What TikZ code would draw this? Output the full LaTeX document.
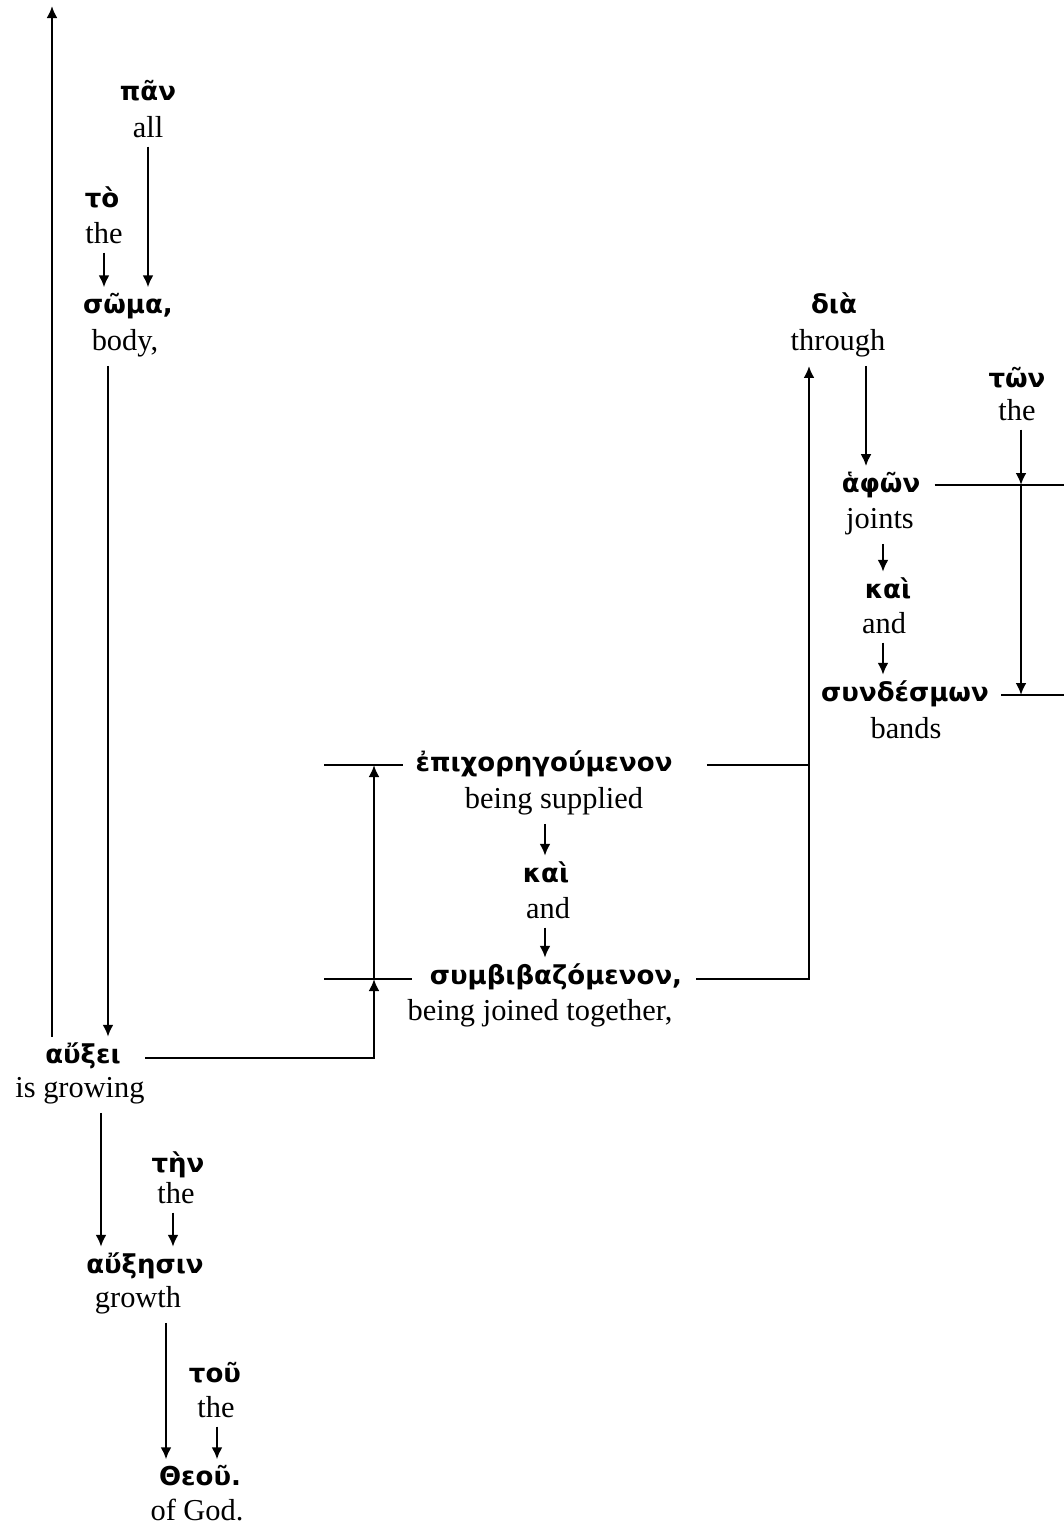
\documentclass[tikz,border=0pt]{standalone}
\usepackage{fontspec}
\setmainfont{Liberation Serif}
\newfontfamily\gkfont{DejaVu Sans}
\usetikzlibrary{arrows.meta}
\begin{document}
\begin{tikzpicture}[x=0.5pt,y=-0.5pt,
  gk/.style={font=\gkfont\bfseries\fontsize{13}{16}\selectfont, inner xsep=1pt, inner ysep=2.5pt, anchor=base},
  en/.style={font=\fontsize{15.2}{18}\selectfont, inner xsep=1pt, inner ysep=4.5pt, anchor=base},
  arr/.style={line width=1.2pt, -{Latex[length=6pt,width=5.5pt]}},
  ln/.style={line width=1.2pt}]
\useasboundingbox (0,0) rectangle (1064,1531);
% Greek / English nodes (placed by baseline)
\node[gk] (pan-g) at (148,100) {πᾶν};
\node[en] (pan-e) at (148,137) {all};
\node[gk] (to-g) at (102,207) {τὸ};
\node[en] (to-e) at (104,243) {the};
\node[gk] (soma-g) at (128,313) {σῶμα,};
\node[en] (soma-e) at (125,350) {body,};
\node[gk] (dia-g) at (834,313) {διὰ};
\node[en] (dia-e) at (838,350) {through};
\node[gk] (ton-g) at (1017,387) {τῶν};
\node[en] (ton-e) at (1017,420) {the};
\node[gk] (afon-g) at (881,492) {ἁφῶν};
\node[en] (afon-e) at (880,528) {joints};
\node[gk] (kai1-g) at (888,598) {καὶ};
\node[en] (kai1-e) at (884,633) {and};
\node[gk] (synd-g) at (905,701) {συνδέσμων};
\node[en] (synd-e) at (906,738) {bands};
\node[gk] (epi-g) at (544,771) {ἐπιχορηγούμενον};
\node[en] (epi-e) at (554,808) {being supplied};
\node[gk] (kai2-g) at (546,882) {καὶ};
\node[en] (kai2-e) at (548,918) {and};
\node[gk] (sym-g) at (556,984) {συμβιβαζόμενον,};
\node[en] (sym-e) at (540,1020) {being joined together,};
\node[gk] (auxei-g) at (83,1063) {αὔξει};
\node[en] (auxei-e) at (80,1097) {is growing};
\node[gk] (ten-g) at (178,1172) {τὴν};
\node[en] (ten-e) at (176,1203) {the};
\node[gk] (auxesin-g) at (145,1273) {αὔξησιν};
\node[en] (auxesin-e) at (138,1307) {growth};
\node[gk] (tou-g) at (215,1382) {τοῦ};
\node[en] (tou-e) at (216,1417) {the};
\node[gk] (theou-g) at (200,1485) {Θεοῦ.};
\node[en] (theou-e) at (197,1520) {of God.};
% line levels and free ends
\coordinate (auxei-L) at ([xshift=11pt,yshift=2.5pt]auxei-g.base east);
\coordinate (symW-L) at ([xshift=-8pt,yshift=2.5pt]sym-g.base west);
\coordinate (symE-L) at ([xshift=6pt,yshift=2.5pt]sym-g.base east);
\coordinate (epiW-L) at ([xshift=-5pt,yshift=3pt]epi-g.base west);
\coordinate (epiE-L) at ([xshift=16pt,yshift=3pt]epi-g.base east);
\coordinate (afon-L) at ([xshift=6pt,yshift=3.5pt]afon-g.base east);
\coordinate (synd-L) at ([xshift=5pt,yshift=3pt]synd-g.base east);
\coordinate (topend) at (52,6);
\coordinate (redge) at (1064,0);
% connectors
\draw[arr] (52,0 |- auxei-g.north) -- (topend);
\draw[arr] (pan-e.south) -- (pan-e.south |- soma-g.north);
\draw[arr] (to-e.south) -- (to-e.south |- soma-g.north);
\draw[arr] (108,0 |- soma-e.south) -- (108,0 |- auxei-g.north);
\draw[arr] (auxei-L) -- (374,0 |- auxei-L) -- (374,0 |- symW-L);
\draw[ln] (324,0 |- symW-L) -- (symW-L);
\draw[ln] (324,0 |- epiW-L) -- (epiW-L);
\draw[arr] (374,0 |- symW-L) -- (374,0 |- epiW-L);
\draw[ln] (epiE-L) -- (809,0 |- epiE-L);
\draw[arr] (symE-L) -- (809,0 |- symE-L) -- (809,0 |- dia-e.south);
\draw[arr] (866,0 |- dia-e.south) -- (866,0 |- afon-g.north);
\draw[ln] (afon-L) -- (redge |- afon-L);
\draw[ln] (synd-L) -- (redge |- synd-L);
\draw[arr] (1021,0 |- ton-e.south) -- (1021,0 |- afon-L);
\draw[arr] (1021,0 |- afon-L) -- (1021,0 |- synd-L);
\draw[arr] (883,0 |- afon-e.south) -- (883,0 |- kai1-g.north);
\draw[arr] (883,0 |- kai1-e.south) -- (883,0 |- synd-g.north);
\draw[arr] (545,0 |- epi-e.south) -- (545,0 |- kai2-g.north);
\draw[arr] (545,0 |- kai2-e.south) -- (545,0 |- sym-g.north);
\draw[arr] (101,0 |- auxei-e.south) -- (101,0 |- auxesin-g.north);
\draw[arr] (173,0 |- ten-e.south) -- (173,0 |- auxesin-g.north);
\draw[arr] (166,0 |- auxesin-e.south) -- (166,0 |- theou-g.north);
\draw[arr] (217,0 |- tou-e.south) -- (217,0 |- theou-g.north);
\end{tikzpicture}
\end{document}
